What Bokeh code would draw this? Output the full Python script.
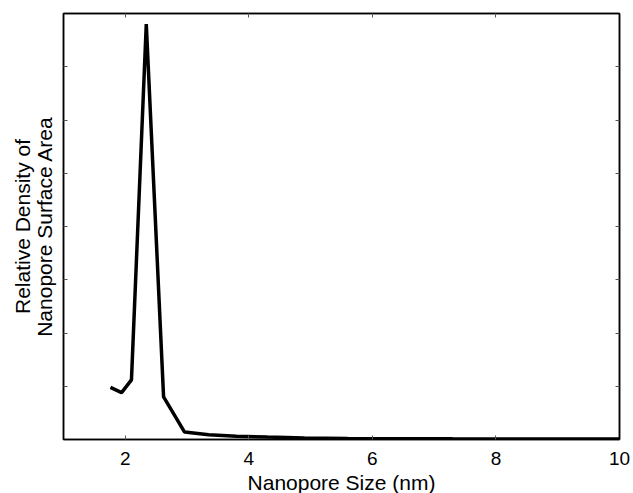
from bokeh.plotting import figure
from bokeh.models import LinearAxis, FixedTicker, CustomJSTickFormatter
from bokeh.embed import file_html
from bokeh.resources import INLINE

# Pore size distribution
pore_size_nm = [1.76, 1.94, 2.10, 2.34, 2.62, 2.96, 3.35, 3.80, 4.30, 4.90,
                5.60, 6.40, 7.30, 8.30, 9.40, 10.0]
relative_density = [0.98, 0.88, 1.12, 7.80, 0.80, 0.14, 0.09, 0.06, 0.045, 0.03,
                    0.02, 0.015, 0.012, 0.01, 0.01, 0.01]

x_ticks = [2, 4, 6, 8, 10]
y_ticks = [1, 2, 3, 4, 5, 6, 7]
y_label_lines = ["Relative Density of", "Nanopore Surface Area"]
x_label = "Nanopore Size (nm)"

FONT = "Liberation Sans"

p = figure(x_range=(1, 10), y_range=(0, 8),
           output_backend="svg", toolbar_location=None,
           frame_width=556, frame_height=426,
           min_border_left=63, min_border_right=14, min_border_top=13, min_border_bottom=50)

p.line(pore_size_nm, relative_density, line_color="black", line_width=3.5)

p.xgrid.visible = False
p.ygrid.visible = False
p.outline_line_color = "black"
p.outline_line_width = 1.5
p.background_fill_color = "white"
p.border_fill_color = "white"

blank = CustomJSTickFormatter(code="return '';")


def style_axis(ax, ticks, labels):
    ax.ticker = FixedTicker(ticks=ticks)
    ax.major_tick_in = 4
    ax.major_tick_out = 0
    ax.minor_tick_in = 0
    ax.minor_tick_out = 0
    ax.major_tick_line_color = "#555555"
    ax.major_tick_line_width = 1
    ax.axis_line_color = "black"
    ax.axis_line_width = 1.5
    if labels:
        ax.major_label_text_font = FONT
        ax.major_label_text_font_size = "19px"
        ax.major_label_text_color = "black"
        ax.major_label_standoff = 12
    else:
        ax.formatter = blank
        ax.major_label_standoff = 0


def style_title(ax, text, standoff):
    ax.axis_label = text
    ax.axis_label_text_font = FONT
    ax.axis_label_text_font_size = "21px"
    ax.axis_label_text_font_style = "normal"
    ax.axis_label_text_color = "black"
    ax.axis_label_standoff = standoff


xa = p.xaxis[0]
style_axis(xa, x_ticks, True)
style_title(xa, x_label, 3)

ya = p.yaxis[0]
style_axis(ya, y_ticks, False)
style_title(ya, y_label_lines[1], 8)

# outer line of the y title, on its own bare axis
ya2 = LinearAxis()
style_axis(ya2, y_ticks, False)
ya2.major_tick_in = 0
ya2.axis_line_color = None
ya2.major_tick_line_color = None
style_title(ya2, y_label_lines[0], -4)
p.add_layout(ya2, "left")

top = LinearAxis()
style_axis(top, x_ticks, False)
p.add_layout(top, "above")

right = LinearAxis()
style_axis(right, y_ticks, False)
p.add_layout(right, "right")

open("out.html", "w").write(file_html(p, INLINE))
